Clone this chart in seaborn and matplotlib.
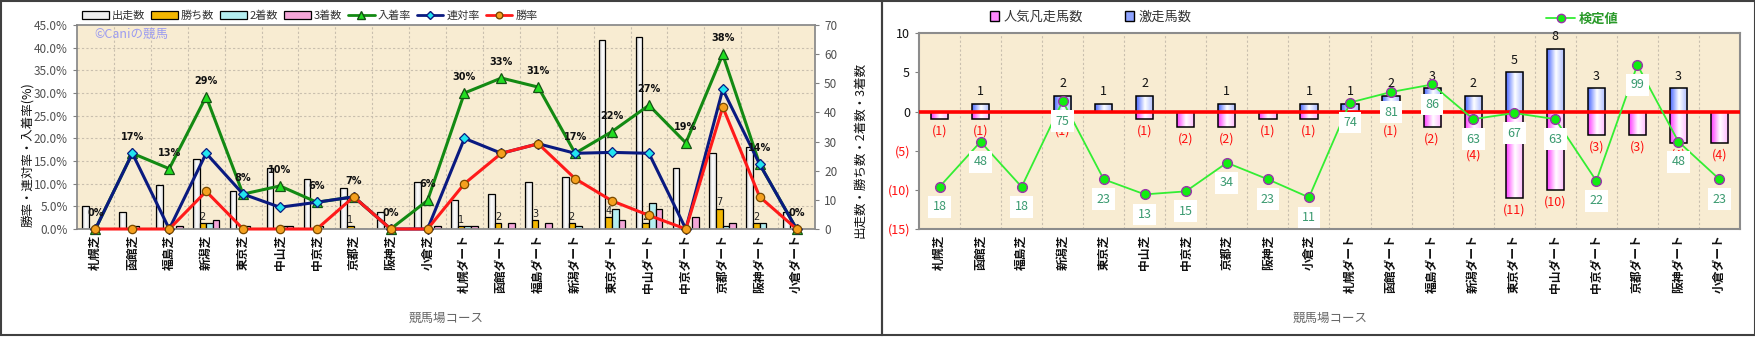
import numpy as np
import pandas as pd
import matplotlib
matplotlib.use("Agg")
import matplotlib.pyplot as plt
import seaborn as sns
from matplotlib.patches import Rectangle, Patch
from matplotlib.lines import Line2D
from matplotlib.colors import LinearSegmentedColormap
from matplotlib.ticker import FixedLocator, FuncFormatter

# ---------------- data ----------------
courses = ["札幌芝", "函館芝", "福島芝", "新潟芝", "東京芝", "中山芝", "中京芝", "京都芝", "阪神芝", "小倉芝",
           "札幌ダート", "函館ダート", "福島ダート", "新潟ダート", "東京ダート", "中山ダート", "中京ダート",
           "京都ダート", "阪神ダート", "小倉ダート"]
runs = [8, 6, 15, 24, 13, 21, 17, 14, 6, 16, 10, 12, 16, 18, 65, 66, 21, 26, 28, 6]
wins = [0, 0, 0, 2, 0, 0, 0, 1, 0, 0, 1, 2, 3, 2, 4, 2, 0, 7, 2, 0]
seconds = [0, 1, 0, 2, 1, 1, 1, 0, 0, 0, 1, 0, 0, 1, 7, 9, 0, 1, 2, 0]
thirds = [0, 0, 1, 3, 0, 1, 0, 0, 0, 1, 1, 2, 2, 0, 3, 7, 4, 2, 0, 0]
win_rate = [0, 0, 0, 8.3, 0, 0, 0, 7.1, 0, 0, 10.0, 16.7, 18.8, 11.1, 6.2, 3.0, 0, 26.9, 7.1, 0]
quinella_rate = [0, 16.7, 0, 16.7, 7.7, 4.8, 5.9, 7.1, 0, 0, 20.0, 16.7, 18.8, 16.7, 16.9, 16.7, 0, 30.8, 14.3, 0]
place_rate = [0, 16.7, 13.3, 29.2, 7.7, 9.5, 5.9, 7.1, 0, 6.3, 30.0, 33.3, 31.3, 16.7, 21.5, 27.3, 19.0, 38.5, 14.3, 0]

upset_horses = [0, 1, 0, 2, 1, 2, 0, 1, 0, 1, 1, 2, 3, 2, 5, 8, 3, 0, 3, 0]
flop_popular = [-1, -1, 0, -1, 0, -1, -2, -2, -1, -1, 0, -1, -2, -4, -11, -10, -3, -3, -4, -4]
test_values = [18, 48, 18, 75, 23, 13, 15, 34, 23, 11, 74, 81, 86, 63, 67, 63, 22, 99, 48, 23]

bar_series = ["出走数", "勝ち数", "2着数", "3着数"]
line_series = ["入着率", "連対率", "勝率"]

# ---------------- style ----------------
sns.set_style("white")
plt.rcParams["font.family"] = ["Noto Sans CJK JP", "DejaVu Sans"]

W, H = 1756, 337
fig = plt.figure(figsize=(W / 100, H / 100), dpi=100)
fig.patch.set_facecolor("white")

BG = "#F8ECD2"
GRID = "#C9BFAE"


def fx(px):
    return px / W


def fy(py):
    return 1 - py / H


def gradient_fill(ax, container, colors):
    cmap = LinearSegmentedColormap.from_list("g", colors)
    grad = np.linspace(0, 1, 64).reshape(1, -1)
    for p in container.patches:
        x0, y0 = p.get_x(), p.get_y()
        w, h = p.get_width(), p.get_height()
        if h == 0:
            continue
        im = ax.imshow(grad, cmap=cmap, extent=(x0, x0 + w, y0, y0 + h), aspect="auto",
                       zorder=p.get_zorder() - 0.05, interpolation="bilinear")
        im.set_clip_path(p)
        p.set_facecolor("none")


# =============== left chart ===============
ax1 = fig.add_axes([fx(77), fy(229), fx(815 - 77), (229 - 25) / H])
ax1.set_facecolor(BG)
ax1.set_axisbelow(True)

df_bars = pd.DataFrame({
    "course": courses * 4,
    "count": runs + wins + seconds + thirds,
    "series": sum([[s] * len(courses) for s in bar_series], []),
})
bar_pal = {"出走数": "#EDEDED", "勝ち数": "#F2B600", "2着数": "#B4EEF0", "3着数": "#F4A6D8"}
sns.barplot(data=df_bars, x="course", y="count", hue="series", order=courses, hue_order=bar_series,
            palette=bar_pal, width=0.72, gap=0, edgecolor="black", linewidth=0.9, legend=False,
            saturation=1, ax=ax1)
gradient_fill(ax1, ax1.containers[0], ["#BEBEBE", "#FFFFFF", "#E4E4E4"])
ax1.bar_label(ax1.containers[1], labels=[str(v) if v > 0 else "" for v in wins], padding=1,
              fontsize=7, color="#222222", family="DejaVu Sans")

ax2 = ax1.twinx()
line_styles = {
    "入着率": dict(y=place_rate, color="#138A13", marker="^", mfc="#22DD22", mec="#145214", ms=7),
    "連対率": dict(y=quinella_rate, color="#0A1A80", marker="D", mfc="#22E5F0", mec="#0A1A80", ms=4.8),
    "勝率": dict(y=win_rate, color="#FF1A1A", marker="o", mfc="#F5A01E", mec="#7A4A00", ms=6),
}
for name in line_series:
    st = line_styles[name]
    sns.pointplot(x=courses, y=st["y"], color=st["color"], markers=st["marker"], linestyles="-",
                  errorbar=None, linewidth=2.2, markersize=st["ms"], markeredgewidth=0.9, ax=ax2)
    ln = ax2.lines[-1]
    ln.set_markerfacecolor(st["mfc"])
    ln.set_markeredgecolor(st["mec"])
    ln.set_clip_on(False)

# axis setup (after twinx, which moves ticks)
ax1.set_xlim(-0.5, len(courses) - 0.5)
ax1.set_ylim(0, 70)
ax1.yaxis.tick_right()
ax1.set_yticks(np.arange(0, 71, 10))
ax1.yaxis.set_minor_locator(FixedLocator(np.linspace(0, 70, 10)))
ax1.xaxis.set_minor_locator(FixedLocator(np.arange(0.5, len(courses) - 0.5, 1)))
ax1.grid(which="minor", color=GRID, linestyle=(0, (2, 2)), linewidth=0.8)
ax1.grid(which="major", visible=False)
ax1.tick_params(axis="y", which="major", length=3, labelsize=8.5, labelcolor="#505050", color="#808080",
                left=False, labelleft=False, right=True, labelright=True)
ax1.tick_params(which="minor", length=0)
ax1.set_xlabel("")
ax1.set_ylabel("")
for s in ax1.spines.values():
    s.set_color("#8C8C8C")
    s.set_linewidth(1.3)

ax2.set_ylim(0, 45)
ax2.set_xlim(-0.5, len(courses) - 0.5)
ax2.set_yticks(np.arange(0, 46, 5))
ax2.yaxis.set_major_formatter(FuncFormatter(lambda v, p: f"{v:.1f}%"))
ax2.tick_params(axis="y", length=3, labelsize=8.5, labelcolor="#505050", color="#808080",
                left=True, labelleft=True, right=False, labelright=False)
ax2.set_xlabel("")
ax2.set_ylabel("")
for s in ax2.spines.values():
    s.set_visible(False)

# percentage labels above the 入着率 points
for (xv, yv), v in zip(ax2.lines[0].get_xydata(), place_rate):
    ax2.annotate(f"{round(v):d}%", (xv, yv), xytext=(0, 16), textcoords="offset pixels",
                 ha="center", va="center", fontsize=7, fontweight="bold", color="#111111",
                 family="DejaVu Sans", annotation_clip=False)

ax1.set_xticks(range(len(courses)))
ax1.set_xticklabels(courses, rotation=90, fontsize=8.5, fontweight="bold", color="#111111")
ax1.tick_params(axis="x", length=0, pad=4)

ax1.text(0.024, 0.955, "©Caniの競馬", transform=ax1.transAxes, ha="left", va="center",
         fontsize=9, color="#9C9CF0")

# left legend
leg_handles = [
    Patch(facecolor="#EDEDED", edgecolor="black", linewidth=0.9),
    Patch(facecolor="#F2B600", edgecolor="black", linewidth=0.9),
    Patch(facecolor="#B4EEF0", edgecolor="black", linewidth=0.9),
    Patch(facecolor="#F4A6D8", edgecolor="black", linewidth=0.9),
]
for name in line_series:
    st = line_styles[name]
    leg_handles.append(Line2D([], [], color=st["color"], lw=2, marker=st["marker"], mfc=st["mfc"],
                              mec=st["mec"], ms=st["ms"] * 0.8))
fig.legend(leg_handles, bar_series + line_series, loc="center left", bbox_to_anchor=(fx(82), fy(16)),
           ncol=7, frameon=False, fontsize=8, handlelength=2.4, handleheight=0.7, columnspacing=0.55,
           handletextpad=0.25, borderaxespad=0, borderpad=0, labelcolor="#333333")

fig.text(fx(28), fy(155), "勝率・連対率・入着率(%)", rotation=90, ha="center", va="center",
         fontsize=9, color="#111111")
fig.text(fx(860), fy(150), "出走数・勝ち数・2着数・3着数", rotation=90, ha="center", va="center",
         fontsize=9, color="#111111")
fig.text(fx(446), fy(318), "競馬場コース", ha="center", va="center", fontsize=9, color="#666666")

# =============== right chart ===============
ax3 = fig.add_axes([fx(919), fy(229), fx(1740 - 919), (229 - 33.3) / H])
ax3.set_facecolor(BG)
ax3.set_axisbelow(True)
sns.barplot(x=courses, y=flop_popular, color="#FF66FF", width=0.42, edgecolor="black", linewidth=1.1,
            saturation=1, ax=ax3)
sns.barplot(x=courses, y=upset_horses, color="#6A86FF", width=0.42, edgecolor="black", linewidth=1.1,
            saturation=1, ax=ax3)
gradient_fill(ax3, ax3.containers[0], ["#FF3CFF", "#FFFFFF", "#FFB4FF"])
gradient_fill(ax3, ax3.containers[1], ["#4A68FF", "#FFFFFF", "#A6B6FF"])
ax3.bar_label(ax3.containers[0], labels=[f"({-v})" if v < 0 else "" for v in flop_popular], padding=4,
              fontsize=9, color="#FF1010")
ax3.bar_label(ax3.containers[1], labels=[str(v) if v > 0 else "" for v in upset_horses], padding=4,
              fontsize=9, color="#111111")
ax3.axhline(0, color="#FF0000", lw=2.6, zorder=3)

ax4 = ax3.twinx()
sns.pointplot(x=courses, y=test_values, color="#33EE33", markers="o", linestyles="-", errorbar=None,
              linewidth=1.3, markersize=7, markeredgewidth=1.0, ax=ax4)
ln = ax4.lines[-1]
ln.set_markerfacecolor("#11EE11")
ln.set_markeredgecolor("#9933AA")
ln.set_clip_on(False)

ax3.set_xlim(-0.5, len(courses) - 0.5)
ax3.set_ylim(-15, 10)
ax3.yaxis.tick_left()
ax3.set_yticks(np.arange(-15, 11, 5))
ax3.yaxis.set_major_formatter(FuncFormatter(lambda v, p: f"({-int(v)})" if v < 0 else f"{int(v)}"))
ax3.yaxis.set_minor_locator(FixedLocator(np.arange(-15, 11, 5)))
ax3.xaxis.set_minor_locator(FixedLocator(np.arange(0.5, len(courses) - 0.5, 1)))
ax3.grid(which="minor", color=GRID, linestyle=(0, (2, 2)), linewidth=0.8)
ax3.grid(which="major", visible=False)
ax3.tick_params(axis="y", which="major", length=3, labelsize=9, color="#808080")
ax3.tick_params(which="minor", length=0)
for lab, v in zip(ax3.get_yticklabels(), np.arange(-15, 11, 5)):
    lab.set_color("#FF1010" if v < 0 else "#111111")
for s in ax3.spines.values():
    s.set_color("#8C8C8C")
    s.set_linewidth(1.5)

ax4.set_ylim(-10, 120)
ax4.set_xlim(-0.5, len(courses) - 0.5)
ax4.set_yticks([])
ax4.set_xlabel("")
ax4.set_ylabel("")
for s in ax4.spines.values():
    s.set_visible(False)
for (xv, yv), v in zip(ln.get_xydata(), test_values):
    ax4.annotate(str(v), (xv, yv), xytext=(0, -20), textcoords="offset pixels", ha="center", va="center",
                 fontsize=9, color="#3A9A70", annotation_clip=False,
                 bbox=dict(boxstyle="square,pad=0.35", fc="white", ec="none"))

ax3.set_xticks(range(len(courses)))
ax3.set_xticklabels(courses, rotation=90, fontsize=8.5, fontweight="bold", color="#111111")
ax3.tick_params(axis="x", length=0, pad=4)
ax3.set_xlabel("")

fig.legend([Patch(facecolor="#FF88FF", edgecolor="black", linewidth=1),
            Patch(facecolor="#8FA4FF", edgecolor="black", linewidth=1)],
           ["人気凡走馬数", "激走馬数"], loc="center left", bbox_to_anchor=(fx(990), fy(17)),
           ncol=2, frameon=False, fontsize=9.5, handlelength=0.7, handleheight=0.7,
           columnspacing=3.2, handletextpad=0.3, borderaxespad=0, borderpad=0, labelcolor="#333333")
leg3 = fig.legend([Line2D([], [], color="#33EE33", lw=1.3, marker="o", mfc="#11EE11", mec="#9933AA", ms=6)],
                  ["検定値"], loc="center left", bbox_to_anchor=(fx(1546), fy(19)), frameon=False,
                  fontsize=9.5, handlelength=2.2, handletextpad=0.3, borderaxespad=0, borderpad=0)
for t in leg3.get_texts():
    t.set_color("#2A9A2A")
    t.set_fontweight("bold")

fig.text(fx(1330), fy(318), "競馬場コース", ha="center", va="center", fontsize=9, color="#666666")

# panel frames
fig.patches.append(Rectangle((fx(1), fy(335)), fx(881), (334) / H, transform=fig.transFigure,
                             fill=False, edgecolor="#404040", lw=1.5))
fig.patches.append(Rectangle((fx(882), fy(335)), fx(873), (334) / H, transform=fig.transFigure,
                             fill=False, edgecolor="#404040", lw=1.5))

fig.savefig("out.png", dpi=100, facecolor="white")
